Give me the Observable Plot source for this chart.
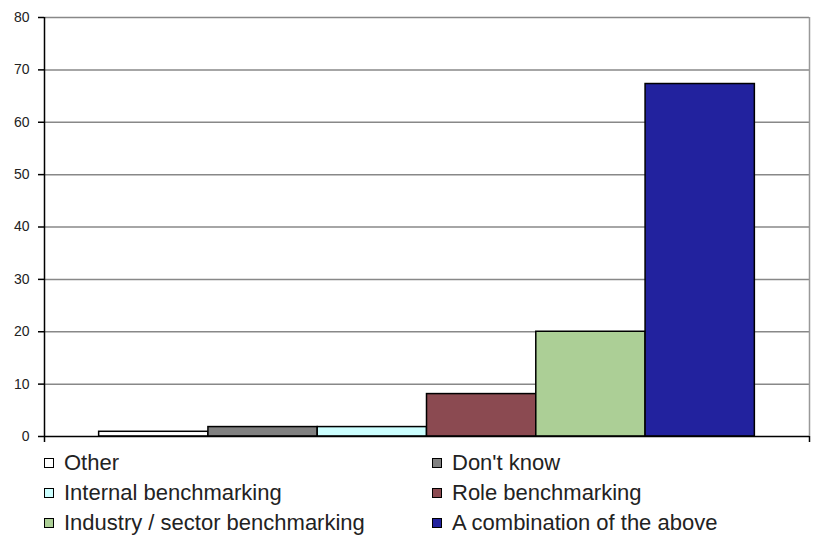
<!DOCTYPE html>
<html>
<head>
<meta charset="utf-8">
<script src="https://cdn.jsdelivr.net/npm/d3@7"></script>
<script src="https://cdn.jsdelivr.net/npm/@observablehq/plot@0.6"></script>
<style>
  html, body { margin: 0; padding: 0; background: #fff; }
  #chart { width: 814px; font-family: "Liberation Sans", Arial, sans-serif; }
  #legend {
    display: grid;
    grid-template-columns: 388px auto;
    grid-auto-rows: 30px;
    padding-left: 44px;
    margin-top: 2px;
    font-size: 22px;
    color: #222;
  }
  .item { display: flex; align-items: center; white-space: nowrap; }
  .swatch {
    width: 8px; height: 8px;
    border: 1.5px solid #000;
    margin-right: 10px;
    flex: none;
  }
</style>
</head>
<body>
<div id="chart"></div>
<script>
// Survey answers: how pay levels are benchmarked (percent of respondents)
const categories = [
  "Other",
  "Don't know",
  "Internal benchmarking",
  "Role benchmarking",
  "Industry / sector benchmarking",
  "A combination of the above"
];
const values = [0.9, 1.8, 1.8, 8.1, 20.0, 67.3];
const colors = ["#ffffff", "#808080", "#ccffff", "#8b4a51", "#accf96", "#22229e"];
const yTicks = [0, 10, 20, 30, 40, 50, 60, 70, 80];

const data = categories.map((name, i) => ({name, index: i, value: values[i], color: colors[i]}));

const plot = Plot.plot({
  width: 814,
  height: 446,
  marginLeft: 44,
  marginRight: 5,
  marginTop: 17,
  marginBottom: 10,
  style: {fontFamily: "Liberation Sans, Arial, sans-serif", color: "#000", background: "#fff"},
  x: {domain: [-0.5, categories.length + 0.5], axis: null},
  y: {domain: [0, 80], axis: null},
  marks: [
    // horizontal gridlines (the 80 line doubles as the top border)
    Plot.ruleY(yTicks.filter(d => d > 0), {stroke: "#888", strokeWidth: 1.5}),
    // right border of the plot area
    Plot.ruleX([categories.length + 0.5], {stroke: "#999", strokeWidth: 1.5}),
    // one adjacent bar per answer
    Plot.rectY(data, {
      x1: "index",
      x2: d => d.index + 1,
      y: "value",
      fill: "color",
      stroke: "#000",
      strokeWidth: 1.5
    }),
    // axis lines
    Plot.ruleY([0], {stroke: "#000", strokeWidth: 1.5}),
    Plot.ruleX([-0.5], {stroke: "#000", strokeWidth: 1.5}),
    Plot.axisY({
      ticks: yTicks,
      tickSize: 6,
      tickPadding: 9,
      fontSize: 14,
      stroke: "#000",
      strokeWidth: 1.5,
      fill: "#222",
      label: null
    }),
    Plot.axisX({
      ticks: [-0.5, categories.length + 0.5],
      tickSize: 6,
      tickFormat: () => "",
      stroke: "#000",
      strokeWidth: 1.5,
      label: null
    })
  ]
});

document.getElementById("chart").append(plot);

// legend: two columns, filled row by row
const legend = document.createElement("div");
legend.id = "legend";
data.forEach(d => {
  const item = document.createElement("div");
  item.className = "item";
  const sw = document.createElement("span");
  sw.className = "swatch";
  sw.style.background = d.color;
  const label = document.createElement("span");
  label.textContent = d.name;
  item.append(sw, label);
  legend.append(item);
});
document.getElementById("chart").append(legend);
</script>
</body>
</html>
